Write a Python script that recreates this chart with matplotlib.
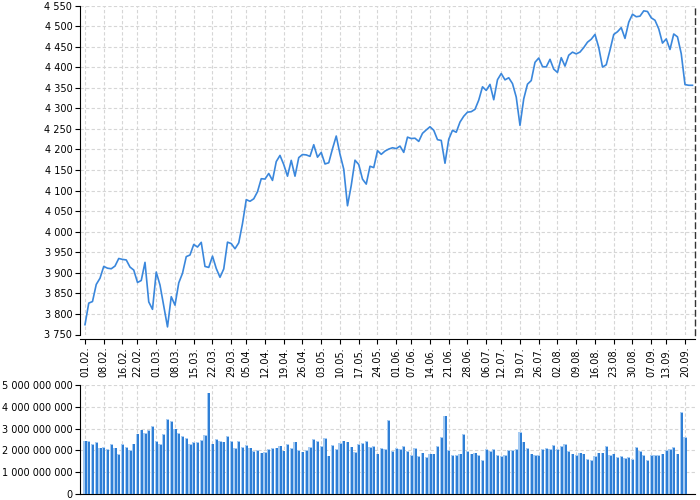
import matplotlib
matplotlib.use("Agg")
import matplotlib.pyplot as plt
import numpy as np
import pandas as pd

# ---- data ----
holidays = ["2021-02-15", "2021-04-02", "2021-05-31", "2021-07-05", "2021-09-06"]
dates = pd.bdate_range("2021-02-01", "2021-09-22")
dates = dates[~dates.isin(pd.to_datetime(holidays))]

close_feb = [3773.86, 3826.31, 3830.17, 3871.74, 3886.83, 3915.59, 3911.23, 3909.88, 3916.38, 3934.83,
             3932.59, 3931.33, 3913.97, 3906.71, 3876.50, 3881.37, 3925.43, 3829.34, 3811.15]
close_mar = [3901.82, 3870.29, 3819.72, 3768.47, 3841.94, 3821.35, 3875.44, 3898.81, 3939.34, 3943.34,
             3968.94, 3962.71, 3974.12, 3915.46, 3913.10, 3940.59, 3910.52, 3889.14, 3909.52, 3974.54,
             3971.09, 3958.55, 3972.89]
close_apr = [4019.87, 4077.91, 4073.94, 4079.95, 4097.17, 4128.80, 4127.99, 4141.59, 4124.66, 4170.42,
             4185.47, 4163.26, 4134.94, 4173.42, 4134.98, 4180.17, 4187.62, 4186.72, 4183.18, 4211.47,
             4181.17]
close_may = [4192.66, 4164.66, 4167.59, 4201.62, 4232.60, 4188.43, 4152.10, 4063.04, 4112.50, 4173.85,
             4163.29, 4127.83, 4115.68, 4159.12, 4155.86, 4197.05, 4188.13, 4195.99, 4200.88, 4204.11]
close_jun = [4202.04, 4208.12, 4192.85, 4229.89, 4226.52, 4227.26, 4219.55, 4239.18, 4247.44, 4255.15,
             4246.59, 4223.70, 4221.86, 4166.45, 4224.79, 4246.44, 4241.84, 4266.49, 4280.70, 4290.61,
             4291.80, 4297.50]
close_jul = [4319.94, 4352.34, 4343.54, 4358.13, 4320.82, 4369.55, 4384.63, 4369.21, 4374.30, 4360.03,
             4327.16, 4258.49, 4323.06, 4358.69, 4367.48, 4411.79, 4422.30, 4401.46, 4400.64, 4419.15,
             4395.26]
close_aug = [4387.16, 4423.15, 4402.66, 4429.10, 4436.52, 4432.35, 4436.75, 4447.70, 4460.83, 4468.00,
             4479.71, 4448.08, 4400.27, 4405.80, 4441.67, 4479.53, 4486.23, 4496.19, 4470.00, 4509.37,
             4528.79, 4522.68]
close_sep = [4524.09, 4536.95, 4535.43, 4520.03, 4514.07, 4493.28, 4458.58, 4468.73, 4443.05, 4480.70,
             4473.75, 4432.99, 4357.73, 4356.00, 4356.00]
closes = close_feb + close_mar + close_apr + close_may + close_jun + close_jul + close_aug + close_sep

# volume in billions
vol_a = [2.45, 2.43, 2.28, 2.37, 2.13, 2.16, 2.06, 2.29, 2.13, 1.82, 2.29, 2.14, 2.02, 2.31, 2.77, 2.95,
         2.80, 2.94, 3.12, 2.42, 2.29, 2.74, 3.44, 3.33, 3.00, 2.80, 2.66, 2.57, 2.28, 2.39, 2.39, 2.46,
         2.69, 4.65, 2.31, 2.51, 2.43, 2.40, 2.65, 2.43, 2.11]
vol_b = [2.42, 2.16, 2.23, 2.13, 1.97, 2.02, 1.90, 1.93, 2.06, 2.09, 2.13, 2.22, 1.99, 2.29, 2.09, 2.40,
         2.02, 1.94, 2.02, 2.16, 2.51, 2.43, 2.19, 2.55, 1.76, 2.25, 2.06, 2.34, 2.45, 2.40, 2.17, 1.91,
         2.28, 2.34, 2.42, 2.16, 2.19, 1.85, 2.11, 2.06, 3.39]
vol_c = [1.97, 2.10, 2.05, 2.20, 1.95, 1.80, 2.10, 1.75, 1.90, 1.70, 1.85, 1.85, 2.20, 2.60, 3.60, 2.00,
         1.80, 1.80, 1.85, 2.75, 1.95, 1.85, 1.90, 1.80, 1.55, 2.05, 1.95, 2.05, 1.80, 1.75, 1.80, 2.00,
         2.00, 2.05, 2.85, 2.40, 2.10, 1.85, 1.80, 1.80, 2.05, 2.10, 2.05, 2.25, 2.05, 2.20, 2.30, 1.95,
         1.85, 1.80, 1.90, 1.85, 1.60, 1.55, 1.75, 1.90, 1.90, 2.20, 1.80, 1.85, 1.70, 1.75, 1.65, 1.70,
         1.60, 2.15, 1.95, 1.80, 1.55, 1.80, 1.80, 1.80, 1.85, 2.00, 2.05, 2.15, 1.85, 3.75, 2.60]
volumes = np.array(vol_a + vol_b + vol_c) * 1e9

y_ticks = list(range(3750, 4551, 50))
v_ticks = [0, 1e9, 2e9, 3e9, 4e9, 5e9]

# ---- derived ----
x = np.arange(len(dates))
week = dates.isocalendar().week.values
tick_idx = [i for i in range(len(dates)) if i == 0 or week[i] != week[i - 1]]
tick_lbl = [dates[i].strftime("%d.%m.") for i in tick_idx]

def fmt(v):
    return f"{v:,.0f}".replace(",", " ")

LINE = "#3a87dc"
DARK = "#2f7fd6"
LIGHT = "#a6cbf2"
GRID = "#d6d6d6"

fig = plt.figure(figsize=(7, 5), dpi=100)
W, H = 700, 500
x0, x1 = 80, 695.3
ax = fig.add_axes([x0 / W, 1 - 334.5 / H, (x1 - x0) / W, (334.5 - 5.5) / H])
axv = fig.add_axes([x0 / W, 1 - 494 / H, (x1 - x0) / W, (494 - 385) / H])

xl = (-1.333, 162.75)

# main line chart
ax.plot(x[:len(closes)], closes, color=LINE, lw=1.2, zorder=3)
ax.set_xlim(*xl)
ax.set_ylim(3750, 4550)
ax.set_yticks(y_ticks)
ax.set_yticklabels([fmt(v) for v in y_ticks])
ax.set_xticks(tick_idx)
ax.set_xticklabels(tick_lbl)
ax.grid(True, color=GRID, linestyle=(0, (3, 2)), lw=0.8)
ax.set_axisbelow(True)
ax.spines["top"].set_visible(False)
ax.spines["right"].set_linestyle((0, (4, 3)))
ax.spines["right"].set_color("#333333")
ax.spines["right"].set_linewidth(1.0)
ax.spines["bottom"].set_position(("outward", 3))
ax.tick_params(axis="both", labelsize=7, length=3.5, width=0.8, pad=2, colors="black")
ax.tick_params(axis="x", labelrotation=90)

# volume bars
n = len(volumes)
xv = x[:n]
axv.bar(xv - 0.41, volumes, width=0.82, align="edge", color=LIGHT, lw=0, zorder=2)
axv.bar(xv - 0.13, volumes - 0.035e9, width=0.54, align="edge", color=DARK, lw=0, zorder=3)
axv.set_xlim(*xl)
axv.set_ylim(0, 5e9)
axv.set_yticks(v_ticks)
axv.set_yticklabels([fmt(v) for v in v_ticks])
axv.set_xticks(tick_idx)
axv.set_xticklabels([])
axv.tick_params(axis="x", length=0)
axv.tick_params(axis="y", labelsize=7, length=3.5, width=0.8, pad=2)
axv.grid(True, color=GRID, linestyle=(0, (3, 2)), lw=0.8)
axv.set_axisbelow(True)
axv.spines["top"].set_visible(False)
axv.spines["right"].set_visible(False)

fig.savefig("out.png", dpi=100)
